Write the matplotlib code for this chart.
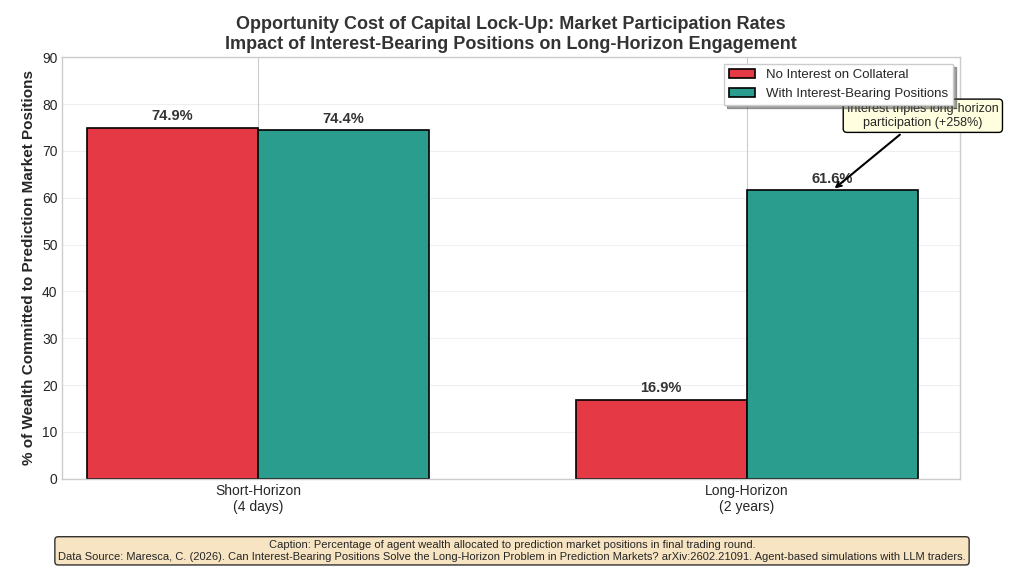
import numpy as np
import matplotlib.pyplot as plt

plt.style.use('seaborn-v0_8-whitegrid')

categories = ['Short-Horizon\n(4 days)', 'Long-Horizon\n(2 years)']
no_interest = [74.9, 16.9]
with_interest = [74.4, 61.6]

fig, ax = plt.subplots(figsize=(10.24, 5.72), dpi=100)
fig.subplots_adjust(left=0.061, right=0.9375, top=0.9, bottom=0.163)

x = np.arange(len(categories))
w = 0.35
b1 = ax.bar(x - w/2, no_interest, w, color='#E63946', edgecolor='black', linewidth=1.2,
            label='No Interest on Collateral')
b2 = ax.bar(x + w/2, with_interest, w, color='#2A9D8F', edgecolor='black', linewidth=1.2,
            label='With Interest-Bearing Positions')

for bars in (b1, b2):
    for bar in bars:
        h = bar.get_height()
        ax.text(bar.get_x() + bar.get_width()/2, h + 1, f'{h:.1f}%', ha='center', va='bottom',
                fontsize=10.5, fontweight='bold', color='#333333')

ax.set_xticks(x)
ax.set_xticklabels(categories, fontsize=10)
ax.set_xlim(-0.4, 1.436)
ax.set_ylim(0, 90)
ax.set_ylabel('% of Wealth Committed to Prediction Market Positions', fontsize=11, fontweight='bold')
ax.set_title('Opportunity Cost of Capital Lock-Up: Market Participation Rates\n'
             'Impact of Interest-Bearing Positions on Long-Horizon Engagement',
             fontsize=13, fontweight='bold', color='#333333')
ax.grid(axis='y', alpha=0.3)
for s in ax.spines.values():
    s.set_visible(True)
    s.set_color('#cccccc')

ax.legend(loc='upper right', frameon=True, shadow=True, fancybox=False, fontsize=9.5,
          edgecolor='#cccccc')

ax.annotate('Interest triples long-horizon\nparticipation (+258%)',
            xy=(1 + w/2, with_interest[1]), xytext=(1.36, 77.5),
            ha='center', va='center', fontsize=9,
            bbox=dict(boxstyle='round,pad=0.3', facecolor='#FFFFE0', edgecolor='black'),
            arrowprops=dict(arrowstyle='->', color='black', lw=1.5))

fig.text(0.5, 0.037, 'Caption: Percentage of agent wealth allocated to prediction market positions in final trading round.\n'
         'Data Source: Maresca, C. (2026). Can Interest-Bearing Positions Solve the Long-Horizon Problem in Prediction Markets? '
         'arXiv:2602.21091. Agent-based simulations with LLM traders.',
         ha='center', va='center', fontsize=8,
         bbox=dict(boxstyle='round,pad=0.3', facecolor='wheat', edgecolor='black', alpha=0.8))

fig.savefig('out.png', dpi=100)
